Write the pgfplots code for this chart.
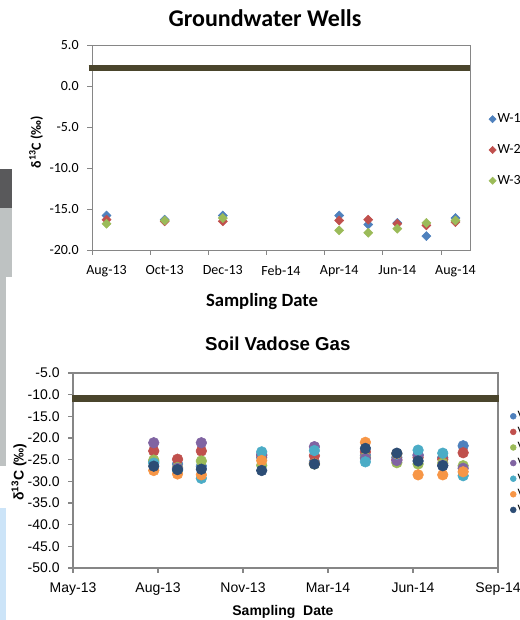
\documentclass[border=0pt]{standalone}
\usepackage{pgfplots}
\pgfplotsset{compat=1.18}
\usepackage{fontspec}
\setmainfont{Carlito}
\newfontfamily\calibri{Carlito}
\newfontfamily\arial{Liberation Sans}
\definecolor{c1}{HTML}{4F81BD}
\definecolor{c2}{HTML}{C0504D}
\definecolor{c3}{HTML}{9BBB59}
\definecolor{c4}{HTML}{8064A2}
\definecolor{c5}{HTML}{4BACC6}
\definecolor{c6}{HTML}{F79646}
\definecolor{c7}{HTML}{2C4D75}
\definecolor{refline}{HTML}{4A452C}
\definecolor{spine}{HTML}{868686}
\definecolor{bgdark}{HTML}{59595B}
\definecolor{bglight}{HTML}{BEC2C2}
\definecolor{bgblue}{HTML}{CCE4F8}

\pgfplotstableread{
x  w1     w2     w3
0  -15.8  -16.3  -16.8
2  -16.3  -16.5  -16.4
4  -15.8  -16.5  -16.1
8  -15.8  -16.4  -17.6
9  -16.9  -16.3  -17.9
10 -16.7  -16.8  -17.4
11 -18.3  -17.0  -16.7
12 -16.1  -16.6  -16.4
}\gw

\pgfplotstableread{
x    v1     v2     v3     v4     v5     v6     v7
95   -25.5  -23.0  -25.1  -21.1  -25.8  -27.5  -26.5
123  -26.0  -24.9  -26.8  -27.0  -27.5  -28.3  -27.3
151  -26.5  -23.0  -25.3  -21.1  -29.3  -28.5  -27.2
222  -24.5  -24.0  -26.3  -23.8  -23.2  -25.2  -27.5
284  -25.5  -24.1  -26.0  -22.0  -22.9  -25.9  -26.0
344  -24.0  -23.2  -24.5  -24.7  -25.5  -21.0  -22.4
381  -24.5  -25.0  -25.7  -25.2  -23.7  -23.6  -23.5
406  -24.0  -24.5  -26.0  -23.9  -22.8  -28.5  -25.3
435  -24.5  -24.9  -25.8  -26.3  -23.5  -28.5  -26.4
459  -21.8  -23.4  -26.4  -27.0  -28.7  -27.8  nan
}\sv

\begin{document}
\begin{tikzpicture}
\path[use as bounding box] (0pt,0pt) rectangle (390pt,465pt);
\clip (0pt,0pt) rectangle (390pt,465pt);
% slide background remnants
\fill[bgdark] (0pt,309pt) rectangle (9pt,338.25pt);
\fill[bglight] (0pt,257.25pt) rectangle (9pt,309pt);
\fill[bglight] (0pt,115.5pt) rectangle (4.5pt,257.25pt);
\fill[bgblue] (0pt,0pt) rectangle (4.5pt,84pt);

% ---------------- Groundwater Wells ----------------
\begin{axis}[
  at={(69pt,277.5pt)}, anchor=south west, scale only axis,
  width=283.5pt, height=153.75pt,
  xmin=-0.5, xmax=12.5, ymin=-20, ymax=5,
  xtick={-0.5,1.5,...,11.5}, xticklabels={},
  extra x ticks={0,2,4,6,8,10,12},
  extra x tick labels={Aug-13,Oct-13,Dec-13,Feb-14,Apr-14,Jun-14,Aug-14},
  extra x tick style={major tick length=0pt},
  ytick={-20,-15,...,5},
  yticklabels={-20.0,-15.0,-10.0,-5.0,0.0,5.0},
  tick align=outside, tick pos=left, major tick length=3.5pt,
  axis line style={spine, line width=0.6pt},
  tick style={spine, line width=0.6pt},
  ticklabel style={font=\calibri\fontsize{10.5}{12}\selectfont, text=black},
  xticklabel style={yshift=-8pt},
  yticklabel style={xshift=-3pt},
  title={Groundwater Wells},
  title style={at={(0.4577,1.1317)}, anchor=center, yshift=-6pt, font=\calibri\bfseries\fontsize{18}{21}\selectfont},
  xlabel={Sampling Date},
  xlabel style={at={(0.4497,-0.250)}, anchor=center, font=\calibri\bfseries\fontsize{14}{16}\selectfont},
  ylabel={δ\textsuperscript{13}C (‰)},
  ylabel style={at={(-0.148,0.527)}, anchor=center, font=\calibri\bfseries\fontsize{10.5}{12}\selectfont},
  clip=false,
  legend image code/.code={\draw[#1, mark size=1.9pt] plot coordinates {(0pt,0pt)};},
  legend style={at={(1.039,0.488)}, anchor=west, draw=none, fill=none,
    font=\calibri\fontsize{10.5}{12}\selectfont, row sep=12.1pt, column sep=0pt,
    nodes={inner sep=1pt, text height=7pt, text depth=2pt}},
  legend cell align=left,
]
\addplot[forget plot, refline, line width=4.3pt] coordinates {(-0.62,2.2) (12.5,2.2)};
\addplot[only marks, mark=square*, mark size=2.4pt, mark options={rotate=45}, c1] table[x=x,y=w1]{\gw};
\addplot[only marks, mark=square*, mark size=2.4pt, mark options={rotate=45}, c2] table[x=x,y=w2]{\gw};
\addplot[only marks, mark=square*, mark size=2.4pt, mark options={rotate=45}, c3] table[x=x,y=w3]{\gw};
\legend{W-1,W-2,W-3}
\end{axis}

% ---------------- Soil Vadose Gas ----------------
\begin{axis}[
  at={(54.75pt,39pt)}, anchor=south west, scale only axis,
  width=318.75pt, height=146.25pt,
  xmin=0, xmax=500, ymin=-50, ymax=-5,
  xtick={0,100,...,500},
  xticklabels={May-13,Aug-13,Nov-13,Mar-14,Jun-14,Sep-14},
  ytick={-50,-45,...,-5},
  yticklabels={-50.0,-45.0,-40.0,-35.0,-30.0,-25.0,-20.0,-15.0,-10.0,-5.0},
  tick align=outside, tick pos=left, major tick length=3.5pt,
  axis line style={spine, line width=0.8pt},
  tick style={spine, line width=0.8pt},
  ticklabel style={font=\arial\fontsize{10.5}{12}\selectfont, text=black},
  xticklabel style={yshift=-4pt},
  yticklabel style={xshift=-3pt},
  title={Soil Vadose Gas},
  title style={at={(0.482,1.149)}, anchor=center, yshift=-6pt, font=\arial\bfseries\fontsize{14}{16}\selectfont},
  xlabel={Sampling\ \ Date},
  xlabel style={at={(0.494,-0.2256)}, anchor=center, font=\arial\bfseries\fontsize{10.5}{12}\selectfont},
  ylabel={δ\textsuperscript{13}C (‰)},
  ylabel style={at={(-0.127,0.492)}, anchor=center, font=\arial\bfseries\fontsize{10.5}{12}\selectfont},
  clip=false,
  legend image code/.code={\draw[#1, mark size=2.2pt] plot coordinates {(0pt,0pt)};},
  legend style={at={(1.019,0.538)}, anchor=west, draw=none, fill=none,
    font=\arial\fontsize{9}{10}\selectfont, row sep=0.7pt, column sep=0pt,
    nodes={inner sep=1pt, text height=7pt, text depth=2pt}},
  legend cell align=left,
]
\addplot[forget plot, refline, line width=5.3pt] coordinates {(-1.2,-10.8) (501,-10.8)};
\addplot[only marks, mark=*, mark size=4pt, c1] table[x=x,y=v1]{\sv};
\addplot[only marks, mark=*, mark size=4pt, c2] table[x=x,y=v2]{\sv};
\addplot[only marks, mark=*, mark size=4pt, c3] table[x=x,y=v3]{\sv};
\addplot[only marks, mark=*, mark size=4pt, c4] table[x=x,y=v4]{\sv};
\addplot[only marks, mark=*, mark size=4pt, c5] table[x=x,y=v5]{\sv};
\addplot[only marks, mark=*, mark size=4pt, c6] table[x=x,y=v6]{\sv};
\addplot[only marks, mark=*, mark size=4pt, c7] table[x=x,y=v7]{\sv};
\legend{V-1,V-2,V-3,V-4,V-5,V-6,V-7}
\end{axis}
\end{tikzpicture}
\end{document}
